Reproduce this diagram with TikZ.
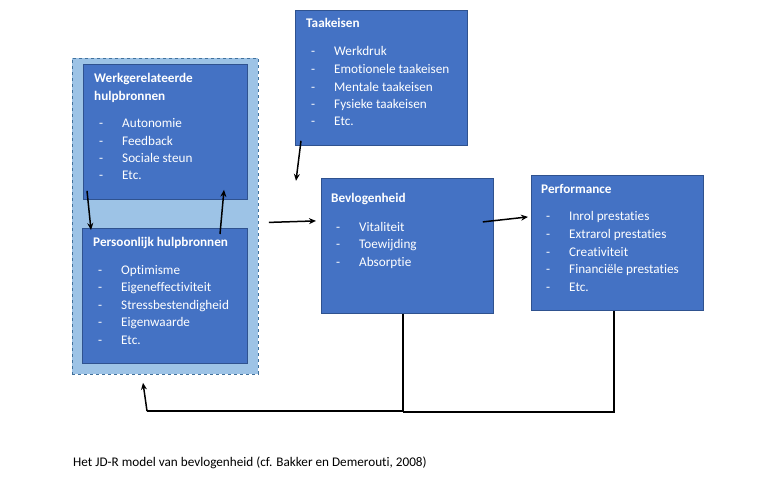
\documentclass[tikz,border=0pt]{standalone}
\usepackage{fontspec}
\setmainfont{Carlito}[Ligatures={NoCommon}]
\usetikzlibrary{arrows.meta,calc}
\definecolor{boxblue}{HTML}{4472C4}
\definecolor{boxedge}{HTML}{2F528F}
\definecolor{lightblue}{HTML}{9DC3E6}
\definecolor{dashedge}{HTML}{41719C}
\tikzset{
  bluebox/.style={draw=boxedge, line width=0.8pt, fill=boxblue, inner sep=0pt, anchor=north west},
  outerbox/.style={draw=dashedge, dashed, line width=0.8pt, fill=lightblue, inner sep=0pt, anchor=north west},
  title/.style={font=\fontsize{13.2}{15}\selectfont\bfseries, text=white, anchor=west, inner sep=0pt, text height=1.5ex, text depth=0.25ex, yshift=-2pt},
  item/.style={font=\fontsize{13.2}{15}\selectfont, text=white, anchor=west, inner sep=0pt, text height=1.5ex, text depth=0.25ex, yshift=-2pt},
  arr/.style={draw=black, line width=1.5pt, -{Stealth[length=7pt,width=6pt]}},
  fb/.style={draw=black, line width=1.5pt},
  caption/.style={font=\fontsize{13.2}{15}\selectfont, anchor=west, inner sep=0pt, text height=1.5ex, text depth=0.25ex, yshift=-1pt}
}
\newcommand{\bullitem}[4]{% name, x, y, text
  \node[item] (#1d) at (#2,#3) {-};
  \node[item] (#1) at ($(#2,#3)+(23,0)$) {#4};
}
\begin{document}
\begin{tikzpicture}[x=1pt,y=-1pt]
\useasboundingbox (0,0) rectangle (767,483);
\fill[white] (0,0) rectangle (767,483);
% outer dashed group
\node[outerbox, minimum width=186pt, minimum height=316pt] (grp) at (72,58) {};
% boxes
\node[bluebox, minimum width=164pt, minimum height=135pt] (werk) at (83,64) {};
\node[bluebox, minimum width=165pt, minimum height=135pt] (pers) at (82,228) {};
\node[bluebox, minimum width=172pt, minimum height=135pt] (taak) at (295,10) {};
\node[bluebox, minimum width=172pt, minimum height=135pt] (bevl) at (321,178) {};
\node[bluebox, minimum width=172pt, minimum height=135pt] (perf) at (531,175) {};
% Werkgerelateerde
\node[title] (werkt1) at (94,78) {Werkgerelateerde};
\node[title] (werkt2) at (94,96) {hulpbronnen};
\bullitem{w1}{99}{123}{Autonomie}
\bullitem{w2}{99}{141}{Feedback}
\bullitem{w3}{99}{158}{Sociale steun}
\bullitem{w4}{99}{175}{Etc.}
% Persoonlijk
\node[title] (perst) at (93,242) {Persoonlijk hulpbronnen};
\bullitem{p1}{98}{270}{Optimisme}
\bullitem{p2}{98}{287}{Eigeneffectiviteit}
\bullitem{p3}{98}{305}{Stressbestendigheid}
\bullitem{p4}{98}{322}{Eigenwaarde}
\bullitem{p5}{98}{340}{Etc.}
% Taakeisen
\node[title] (taakt) at (306,23) {Taakeisen};
\bullitem{t1}{311}{51}{Werkdruk}
\bullitem{t2}{311}{69}{Emotionele taakeisen}
\bullitem{t3}{311}{87}{Mentale taakeisen}
\bullitem{t4}{311}{104}{Fysieke taakeisen}
\bullitem{t5}{311}{121}{Etc.}
% Bevlogenheid
\node[title] (bevlt) at (331,198) {Bevlogenheid};
\bullitem{b1}{336}{227}{Vitaliteit}
\bullitem{b2}{336}{244}{Toewijding}
\bullitem{b3}{336}{262}{Absorptie}
% Performance
\node[title] (perft) at (541,189) {Performance};
\bullitem{f1}{546}{216}{Inrol prestaties}
\bullitem{f2}{546}{234}{Extrarol prestaties}
\bullitem{f3}{546}{252}{Creativiteit}
\bullitem{f4}{546}{269}{Financiële prestaties}
\bullitem{f5}{546}{287}{Etc.}
% arrows
\draw[arr] ($(werk.south west)+(4,-9)$) -- ($(pers.north west)+(9,2)$);
\draw[arr] ($(pers.north west)+(138,6)$) -- ($(werk.south west)+(141,-10)$);
\draw[arr] ($(taak.south west)+(6,-5)$) -- ($(taak.south west)+(1,35)$);
\draw[arr] ($(grp.east)+(10,6)$) -- ($(bevl.west)+(-5,-25)$);
\draw[arr] ($(bevl.east)+(-11,-24)$) -- ($(perf.west)+(-3,-26)$);
% feedback loop
\coordinate (fbl) at (147,411);
\draw[fb] ($(bevl.south west)+(82,0)$) |- (fbl);
\draw[fb] ($(perf.south west)+(83,0)$) |- ($(bevl.south west)+(82,98)$);
\draw[arr] (fbl) -- ($(grp.south west)+(71,8)$);
% caption
\node[caption] (cap) at (73,463) {Het JD-R model van bevlogenheid (cf. Bakker en Demerouti, 2008)};
\end{tikzpicture}
\end{document}
